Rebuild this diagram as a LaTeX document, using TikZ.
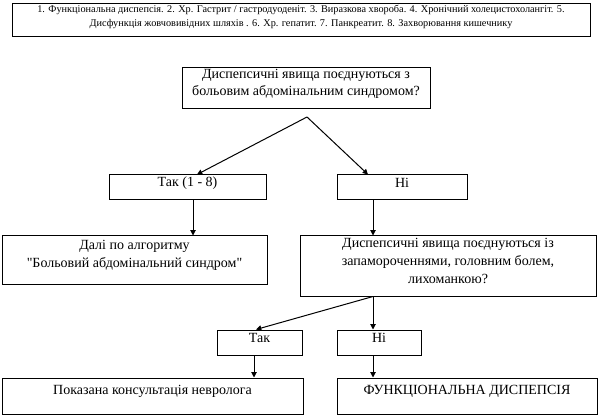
\documentclass[tikz,border=0pt]{standalone}
\usepackage{fontspec}
\setmainfont{Liberation Serif}[Ligatures=TeXOff]
\usetikzlibrary{arrows.meta,fit}
\begin{document}
\begin{tikzpicture}[x=0.75pt,y=-0.75pt,
  box/.style={draw, line width=0.75pt, inner sep=0pt,
    font=\fontsize{10.5}{13.5}\selectfont},
  one/.style={box, text height=7pt, text depth=2pt},
  multi/.style={box, align=center},
  arr/.style={line width=0.75pt, -{Triangle[length=4pt,width=4pt]}}]
\useasboundingbox (0,0) rectangle (602,416);
% boxes
\node[multi, fit={(12,4)(590,37)}, font=\fontsize{7.7}{10.5}\selectfont] (top)
  {1. Функціональна диспепсія. 2. Хр. Гастрит / гастродуоденіт. 3. Виразкова хвороба. 4. Хронічний холецистохолангіт. 5.\\
   Дисфункція жовчовивідних шляхів . 6. Хр. гепатит. 7. Панкреатит. 8. Захворювання кишечнику};
\node[multi, fit={(182,68)(430,109)}, font=\fontsize{10.5}{12.75}\selectfont] (q1)
  {Диспепсичні явища поєднуються з\\больовим абдомінальним синдромом?};
\node[one, fit={(109,175)(266,200)}] (tak1) {Так (1 - 8)};
\node[one, fit={(337,175)(467,200)}] (ni1) {Ні};
\node[multi, fit={(2,236)(267,284)}, font=\fontsize{10.5}{13}\selectfont] (dali)
  {Далі по алгоритму\\"Больовий абдомінальний синдром"};
\node[multi, fit={(300,236)(596,296)}] (q2)
  {Диспепсичні явища поєднуються із\\запамороченнями, головним болем,\\лихоманкою?};
\node[one, fit={(217,330)(302,355)}] (tak2) {Так};
\node[one, fit={(337,330)(421,355)}] (ni2) {Ні};
\node[one, fit={(2,378)(303,414)}] (neuro) {Показана консультація невролога};
\node[one, fit={(337,378)(597,414)}] (fd) {ФУНКЦІОНАЛЬНА ДИСПЕПСІЯ};
% columns
\coordinate (apex) at (307,117);
\coordinate (cL) at (193,0);
\coordinate (cR) at (373,0);
\coordinate (cT) at (254,0);
\coordinate (c1) at (197,0);
\coordinate (c2) at (368,0);
\coordinate (c3) at (256,0);
% connectors
\draw[arr] (apex) -- (tak1.north -| c1);
\draw[arr] (apex) -- (ni1.north -| c2);
\draw[arr] (tak1.south -| cL) -- (dali.north -| cL);
\draw[arr] (ni1.south -| cR) -- (q2.north -| cR);
\draw[arr] (q2.south -| cR) -- (tak2.north -| c3);
\draw[arr] (q2.south -| cR) -- (ni2.north -| cR);
\draw[arr] (tak2.south -| cT) -- (neuro.north -| cT);
\draw[arr] (ni2.south -| cR) -- (fd.north -| cR);
\end{tikzpicture}
\end{document}
